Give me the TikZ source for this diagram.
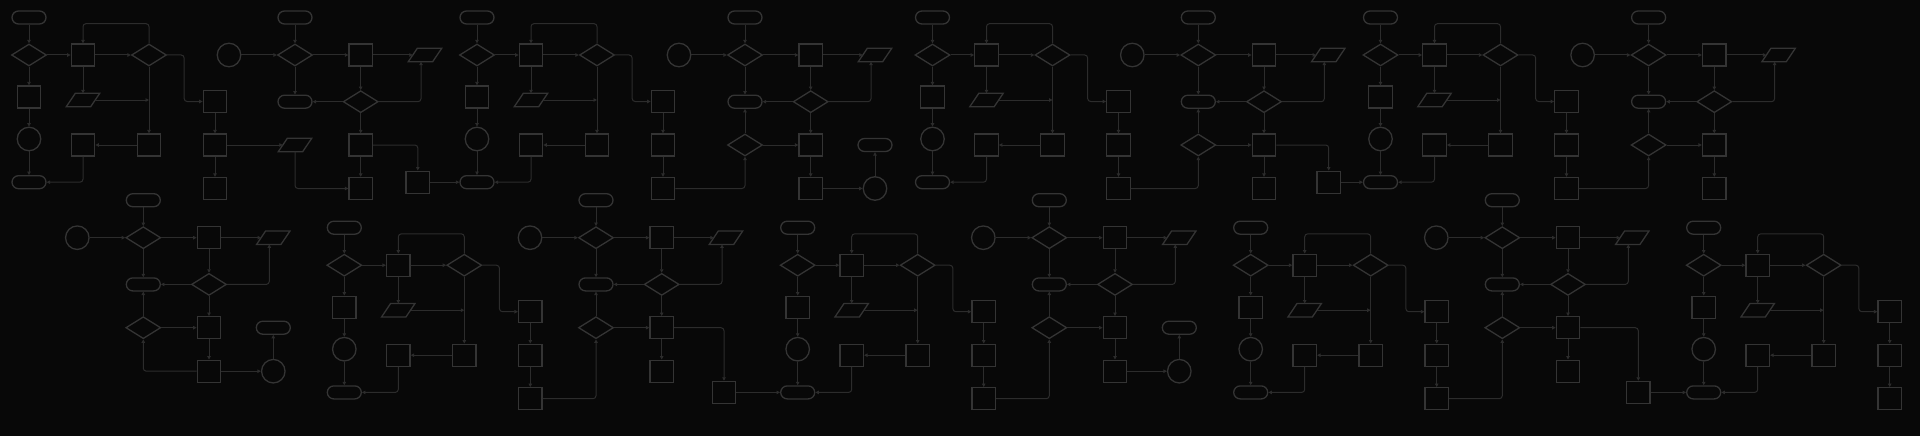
\documentclass[tikz,border=0pt]{standalone}
\usetikzlibrary{arrows.meta, shapes.geometric}
\definecolor{bgc}{HTML}{080808}
\definecolor{shapec}{HTML}{343434}
\definecolor{flowc}{HTML}{2C2C2C}

\begin{document}
\begin{tikzpicture}[x=1pt, y=-1pt,
  box/.style={draw=shapec, line width=1.3pt, minimum width=23.5pt, minimum height=22pt, inner sep=0pt},
  term/.style={draw=shapec, line width=1.3pt, rounded corners=6.5pt, minimum width=34pt, minimum height=13pt, inner sep=0pt},
  dia/.style={draw=shapec, line width=1.3pt, diamond, minimum width=35pt, minimum height=22pt, inner sep=0pt},
  circ/.style={draw=shapec, line width=1.3pt, circle, minimum size=23.5pt, inner sep=0pt},
  io/.style={minimum width=24pt, minimum height=13pt, inner sep=0pt,
    append after command={\pgfextra{\let\ionode\tikzlastnode
      \draw[draw=shapec, line width=1.3pt]
        ([xshift=4.5pt]\ionode.north west) -- ([xshift=4.5pt]\ionode.north east)
        -- ([xshift=-4.5pt]\ionode.south east) -- ([xshift=-4.5pt]\ionode.south west) -- cycle;}}},
  flow/.style={draw=flowc, line width=1pt, rounded corners=3pt, -{Triangle[length=3.5pt,width=3.5pt]}}]
  \fill[bgc] (0,0) rectangle (1920,436);

  % first chart of every tile
  \foreach \n/\x/\y in {1/29/17.5, 2/477/17.5, 3/932.5/17.5, 4/1380.5/17.5, 5/344.3/227.7, 6/797.7/227.7, 7/1250.7/227.7, 8/1703.7/227.7} {
    \begin{scope}[shift={(\x,\y)}]
      \node[term] (a\n-t1) at (0,0) {};
      \node[dia] (a\n-d1) at (0,37.5) {};
      \node[box] (a\n-b1) at (0,79.5) {};
      \node[circ] (a\n-c1) at (0,121.5) {};
      \node[term] (a\n-t2) at (0,164.7) {};
      \node[box] (a\n-b2) at (54,37.5) {};
      \node[io] (a\n-io) at (54,82.5) {};
      \node[dia] (a\n-d2) at (120,37.5) {};
      \node[box] (a\n-b3) at (120,127.5) {};
      \node[box] (a\n-b4) at (54,127.5) {};
      \node[box] (a\n-e1) at (186,84) {};
      \node[box] (a\n-e2) at (186,127.5) {};
      \node[box] (a\n-e3) at (186,171) {};
    \end{scope}
    \draw[flow] (a\n-t1) -- (a\n-d1);
    \draw[flow] (a\n-d1) -- (a\n-b1);
    \draw[flow] (a\n-b1) -- (a\n-c1);
    \draw[flow] (a\n-c1) -- (a\n-t2);
    \draw[flow] (a\n-d1) -- (a\n-b2);
    \draw[flow] (a\n-b2) -- (a\n-d2);
    \draw[flow] (a\n-b2) -- (a\n-io);
    \draw[flow] (a\n-d2.north) -- ++(0,-19.7) -| (a\n-b2.north);
    \draw[flow] (a\n-io) -- (a\n-io -| a\n-d2);
    \draw[flow] (a\n-d2) -- (a\n-b3);
    \draw[flow] (a\n-b3) -- (a\n-b4);
    \draw[flow] (a\n-b4) |- (a\n-t2);
    \draw[flow] (a\n-d2.east) -- ++(17,0) |- (a\n-e1);
    \draw[flow] (a\n-e1) -- (a\n-e2);
    \draw[flow] (a\n-e2) -- (a\n-e3);
  }

  % second chart of every tile
  \foreach \n/\x/\y in {1/295/55, 2/745/55, 3/1198.3/55, 4/1648.6/55, 5/143.3/237.7, 6/596/237.7, 7/1049.3/237.7, 8/1502.3/237.7} {
    \begin{scope}[shift={(\x,\y)}]
      \node[term] (b\n-t1) at (0,-37.5) {};
      \node[circ] (b\n-c1) at (-66,0) {};
      \node[dia] (b\n-d1) at (0,0) {};
      \node[box] (b\n-b1) at (65.7,0) {};
      \node[io] (b\n-io) at (130,0) {};
      \node[term] (b\n-t2) at (0,46.7) {};
      \node[dia] (b\n-d2) at (65.7,46.7) {};
      \node[box] (b\n-b2) at (65.7,90) {};
      \node[box] (b\n-b3) at (65.7,133.5) {};
    \end{scope}
    \draw[flow] (b\n-t1) -- (b\n-d1);
    \draw[flow] (b\n-c1) -- (b\n-d1);
    \draw[flow] (b\n-d1) -- (b\n-b1);
    \draw[flow] (b\n-b1) -- (b\n-io);
    \draw[flow] (b\n-d1) -- (b\n-t2);
    \draw[flow] (b\n-b1) -- (b\n-d2);
    \draw[flow] (b\n-d2) -- (b\n-t2);
    \draw[flow] (b\n-d2) -| ([xshift=-4pt]b\n-io.south);
    \draw[flow] (b\n-d2) -- (b\n-b2);
    \draw[flow] (b\n-b2) -- (b\n-b3);
  }

  % lower decision
  \foreach \n in {2,3,4,5,6,7,8} {
    \node[dia] (b\n-d3) at (b\n-d1 |- b\n-b2) {};
    \draw[flow] (b\n-d3) -- (b\n-t2);
    \draw[flow] (b\n-d3) -- (b\n-b2);
  }
  \foreach \a/\b in {2/2, 3/3, 4/4, 5/6, 6/7, 7/8}
    \draw[flow] (a\a-e3) -| (b\b-d3);
  \draw[flow] (b5-b3) -| (b5-d3);

  % data instead of decision
  \node[io] (b1-io2) at (b1-d1 |- b1-b2) {};
  \draw[flow] (a1-e2) -- (b1-io2);
  \draw[flow] (b1-io2) |- (b1-b3);

  % end circles
  \foreach \n in {2,5,7} {
    \node[term] (b\n-t3) at (b\n-io |- b\n-b2) {};
    \node[circ] (b\n-c2) at (b\n-io |- b\n-b3) {};
    \draw[flow] (b\n-b3) -- (b\n-c2);
    \draw[flow] (b\n-c2) -- (b\n-t3);
  }

  % boxes handing over to the next tile
  \foreach \n/\m/\rx/\ry in {1/2/417.8/182.2, 3/4/1328.7/182.2, 6/6/724/392.4, 8/8/1638.3/392.4} {
    \node[box] (b\n-r) at (\rx,\ry) {};
    \draw[flow] (b\n-b2) -| (b\n-r);
    \draw[flow] (b\n-r) -- (a\m-t2);
  }
\end{tikzpicture}
\end{document}
